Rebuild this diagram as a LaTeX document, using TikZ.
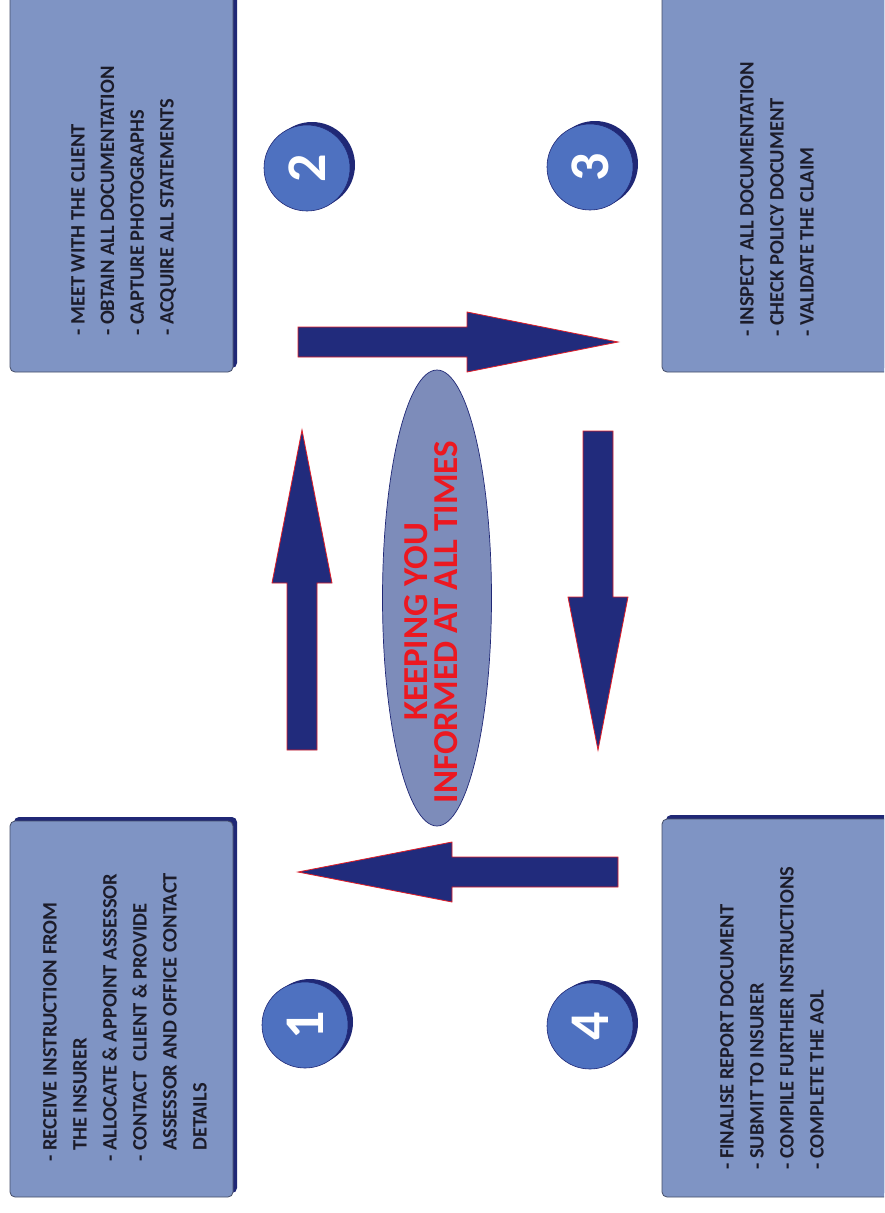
\documentclass[tikz,border=0pt]{standalone}
\usepackage{fontspec}
\setmainfont{Carlito}
\usetikzlibrary{shapes.geometric,shadows}
\definecolor{boxfill}{RGB}{127,148,196}
\definecolor{boxline}{RGB}{70,78,105}
\definecolor{navy}{RGB}{32,40,118}
\definecolor{arrfill}{RGB}{33,43,124}
\definecolor{arrline}{RGB}{225,30,40}
\definecolor{circfill}{RGB}{78,113,192}
\definecolor{ellfill}{RGB}{125,140,186}
\definecolor{redtxt}{RGB}{236,24,32}
\definecolor{bodytxt}{RGB}{28,28,42}
\newcommand\hind{\phantom{-\ }}
\begin{document}
\begin{tikzpicture}[x=1pt,y=-1pt,
  stepbox/.style={rectangle, rounded corners=5pt, fill=boxfill, draw=boxline, line width=0.8pt,
    general shadow={fill=navy, shadow xshift=4pt, shadow yshift=4pt}},
  ln/.style={anchor=base west, rotate=90, inner sep=0pt, text=bodytxt,
    font=\fontsize{20.5}{24}\selectfont\bfseries},
  numcirc/.style={circle, minimum size=86pt, inner sep=0pt, fill=circfill, draw=navy, line width=0.6pt,
    general shadow={fill=navy, shadow xshift=5pt, shadow yshift=3pt}},
  digit/.style={rotate=90, inner sep=0pt, text=white, font=\fontsize{56}{56}\selectfont\bfseries},
  arr/.style={fill=arrfill, draw=arrline, line width=0.8pt, line join=miter},
  hub/.style={ellipse, minimum width=109pt, minimum height=456pt, fill=ellfill, draw=navy, line width=0.7pt},
  hubtxt/.style={rotate=90, align=center, inner sep=0pt, text=redtxt,
    font=\fontsize{35}{30}\selectfont\bfseries}
]
\useasboundingbox (0,0) rectangle (884,1213);
\clip (0,0) rectangle (884,1213);
\fill[white] (0,0) rectangle (884,1213);

% boxes
\node[stepbox, minimum width=223pt, minimum height=376pt] (b1) at (121.5,1009) {};
\node[stepbox, minimum width=223pt, minimum height=392pt] (b2) at (121.5,176) {};
\node[stepbox, minimum width=238pt, minimum height=392pt] (b3) at (781,176) {};
\node[stepbox, minimum width=238pt, minimum height=378pt] (b4) at (781,1008) {};

% box texts
\foreach \t [count=\i from 0] in {- RECEIVE INSTRUCTION FROM, \hind THE INSURER, - ALLOCATE \& APPOINT ASSESSOR, - CONTACT~ CLIENT \& PROVIDE, \hind ASSESSOR AND OFFICE CONTACT, \hind DETAILS}
  {\node[ln] (t1\i) at ({56.5+30*\i},1162) {\t};}
\foreach \t [count=\i from 0] in {- MEET WITH THE CLIENT, - OBTAIN ALL DOCUMENTATION, - CAPTURE PHOTOGRAPHS, - ACQUIRE ALL STATEMENTS}
  {\node[ln] (t2\i) at ({84.5+29.7*\i},336) {\t};}
\foreach \t [count=\i from 0] in {- INSPECT ALL DOCUMENTATION, - CHECK POLICY DOCUMENT, - VALIDATE THE CLAIM}
  {\node[ln] (t3\i) at ({753.5+30*\i},337) {\t};}
\foreach \t [count=\i from 0] in {- FINALISE REPORT DOCUMENT, - SUBMIT TO INSURER, - COMPILE FURTHER INSTRUCTIONS, - COMPLETE THE AOL}
  {\node[ln] (t4\i) at ({733.5+30*\i},1170) {\t};}

% numbered circles
\node[numcirc] (c1) at (305,1025) {};
\node[digit] (n1) at (c1) {1};
\node[numcirc] (c2) at (307,168) {};
\node[digit] (n2) at (c2) {2};
\node[numcirc] (c3) at (590,167) {};
\node[digit] (n3) at (c3) {3};
\node[numcirc] (c4) at (590,1026) {};
\node[digit] (n4) at (c4) {4};

% block arrows
\draw[arr] (287,750) -- (287,583) -- (272,583) -- (302,430) -- (332,583) -- (317,583) -- (317,750) -- cycle;
\draw[arr] (298,327) -- (467,327) -- (467,312) -- (618,342) -- (467,372) -- (467,357) -- (298,357) -- cycle;
\draw[arr] (583,431) -- (613,431) -- (613,597) -- (628,597) -- (598,750) -- (568,597) -- (583,597) -- cycle;
\draw[arr] (618,857) -- (452,857) -- (452,842) -- (298,872) -- (452,902) -- (452,887) -- (618,887) -- cycle;

% central ellipse
\node[hub] (hub) at (437,598) {};
\node[hubtxt] (hubt) at (431,622) {KEEPING YOU\\INFORMED AT ALL TIMES};
\end{tikzpicture}
\end{document}
